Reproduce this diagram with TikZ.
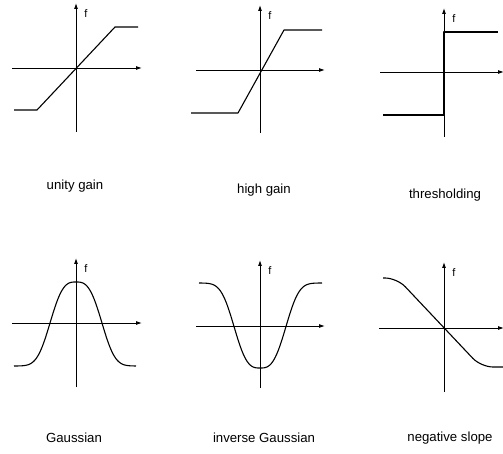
\documentclass[tikz,border=0pt]{standalone}
\usepackage{fontspec}
\setmainfont{Liberation Sans}
\usetikzlibrary{arrows.meta}

\begin{document}
\begin{tikzpicture}[
  x=1pt,y=-1pt,
  axis/.style={line width=0.9pt,-{Latex[length=6pt,width=4pt]}},
  curve/.style={line width=1.1pt,line join=round},
  flabel/.style={font=\fontsize{11}{13}\selectfont},
  caption/.style={font=\fontsize{13.2}{15}\selectfont}
]
  \useasboundingbox (0,0) rectangle (503,454);
  % Axes and f labels
  \foreach \n/\ox/\oy/\l/\r/\t/\b in {1/76/68/12/142/3/132, 2/260/70/196/325/5/133,
      3/444/72/380/504/8/137, 4/76/323/12/142/258/387, 5/260/326/196/325/260/388,
      6/444/328/379/504/262/392} {
    \coordinate (o\n) at (\ox,\oy);
    \draw[axis] (\l,\oy) -- (\r,\oy);
    \draw[axis] (\ox,\b) -- (\ox,\t);
    \node[flabel] (f\n) at (\ox+10,\t+11) {f};
  }
  % Curves
  \draw[curve] (14,110) -- (37,110) -- (115,27) -- (138,27);
  \draw[curve] (191,113) -- (238,113) -- (284,30) -- (322,30);
  \draw[curve] (383,115) -- (444,115) -- (444,32) -- (498,32);
  \draw[curve] plot[domain=-62:60,samples=120] ({76+\x},{366-84*exp(-(abs(\x)/29.7)^3)});
  \draw[curve] plot[domain=-61:62,samples=120] ({260+\x},{283+85*exp(-(abs(\x)/29.7)^3)});
  \draw[curve,rounded corners=12pt] (383,278) -- (397,278) -- (481,367) -- (503,367);
  % Captions
  \node[caption] (c1) at (75,186) {unity gain};
  \node[caption] (c2) at (264,190) {high gain};
  \node[caption] (c3) at (445,195) {thresholding};
  \node[caption] (c4) at (74,438) {Gaussian};
  \node[caption] (c5) at (264,438) {inverse Gaussian};
  \node[caption] (c6) at (450,438) {negative slope};
\end{tikzpicture}
\end{document}
